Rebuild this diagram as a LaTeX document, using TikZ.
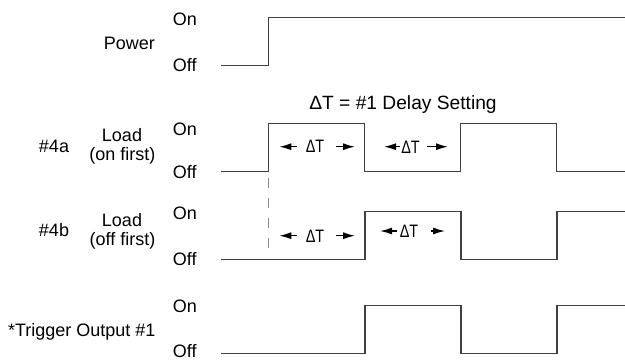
\documentclass[tikz,border=0pt]{standalone}
\usepackage{fontspec}
\setmainfont{Liberation Sans}
\usetikzlibrary{arrows.meta}
\newcommand{\dT}{\scalebox{0.8}[1]{ΔT}}
\begin{document}
\begin{tikzpicture}[x=1pt,y=-1pt,
  every node/.style={inner sep=0pt, font=\fontsize{18}{20}\selectfont},
  sig/.style={line width=1.1pt, draw=black!75},
  dashline/.style={line width=1.1pt, draw=black!45, dash pattern=on 10pt off 10pt},
  dtarrow/.style={line width=1.3pt, -{Latex[length=12pt,width=7pt]}},
  lbl/.style={anchor=base west},
  ctext/.style={anchor=base}]
\useasboundingbox (0,0) rectangle (625,360);

% signals
\draw[sig] (221,65.7) -- (268.5,65.7) -- (268.5,17.7) -- (626,17.7);
\draw[sig] (221,171.7) -- (268.5,171.7) -- (268.5,123.7) -- (364.5,123.7) -- (364.5,171.7)
  -- (460.5,171.7) -- (460.5,123.7) -- (556.7,123.7) -- (556.7,171.7) -- (626,171.7);
\draw[sig] (221,259.3) -- (365,259.3) -- (365,211.5) -- (461,211.5) -- (461,259.3)
  -- (557,259.3) -- (557,211.5) -- (626,211.5);
\draw[sig] (221,353.3) -- (365,353.3) -- (365,305.7) -- (461,305.7) -- (461,353.3)
  -- (557,353.3) -- (557,305.7) -- (626,305.7);

% dashed marker
\coordinate (d1) at (268.4,178.3);
\coordinate (d2) at (268.4,250);
\draw[dashline] (d1) -- (d2);

% labels left
\node[anchor=base east] (power) at (155,49.3) {Power};
\node[lbl] (on1) at (172.7,25) {On};
\node[lbl] (off1) at (172.7,71.7) {Off};

\node[ctext] (la) at (54,152.7) {\#4a};
\node[ctext] (loada) at (122,141.7) {Load};
\node[ctext] (onfirst) at (122.5,160.5) {(on first)};
\node[lbl] (on2) at (172.7,135) {On};
\node[lbl] (off2) at (172.7,178.5) {Off};

\node[ctext] (lb) at (54,236) {\#4b};
\node[ctext] (loadb) at (122,226.7) {Load};
\node[ctext] (offfirst) at (122.5,245.5) {(off first)};
\node[lbl] (on3) at (172.7,219.3) {On};
\node[lbl] (off3) at (172.7,265) {Off};

\node[anchor=base east] (trig) at (155.7,336) {*Trigger Output \#1};
\node[lbl] (on4) at (172.7,312.7) {On};
\node[lbl] (off4) at (172.7,357.3) {Off};

% title
\node[ctext, font=\fontsize{19.2}{21}\selectfont] (title) at (403,109) {ΔT = \#1 Delay Setting};

% delta T arrows
\node[ctext] (t1) at (315,152.7) {\dT};
\coordinate (t1l) at (297,146.7); \coordinate (t1lt) at (279.3,146.7);
\coordinate (t1r) at (336,146.7); \coordinate (t1rt) at (355,146.7);
\draw[dtarrow] (t1l) -- (t1lt);
\draw[dtarrow] (t1r) -- (t1rt);

\node[ctext] (t2) at (410.5,153.3) {\dT};
\coordinate (t2l) at (400,146.7); \coordinate (t2lt) at (384,146.7);
\coordinate (t2r) at (427,146.7); \coordinate (t2rt) at (448,146.7);
\draw[dtarrow] (t2l) -- (t2lt);
\draw[dtarrow] (t2r) -- (t2rt);

\node[ctext] (t3) at (315,242.7) {\dT};
\coordinate (t3l) at (297,235.7); \coordinate (t3lt) at (279.3,235.7);
\coordinate (t3r) at (336,235.7); \coordinate (t3rt) at (355,235.7);
\draw[dtarrow] (t3l) -- (t3lt);
\draw[dtarrow] (t3r) -- (t3rt);

\node[ctext] (t4) at (409,237.3) {\dT};
\coordinate (t4l) at (397,231); \coordinate (t4lt) at (380,231);
\coordinate (t4r) at (431,231); \coordinate (t4rt) at (445,231);
\draw[dtarrow] (t4l) -- (t4lt);
\draw[dtarrow] (t4r) -- (t4rt);
\end{tikzpicture}
\end{document}
